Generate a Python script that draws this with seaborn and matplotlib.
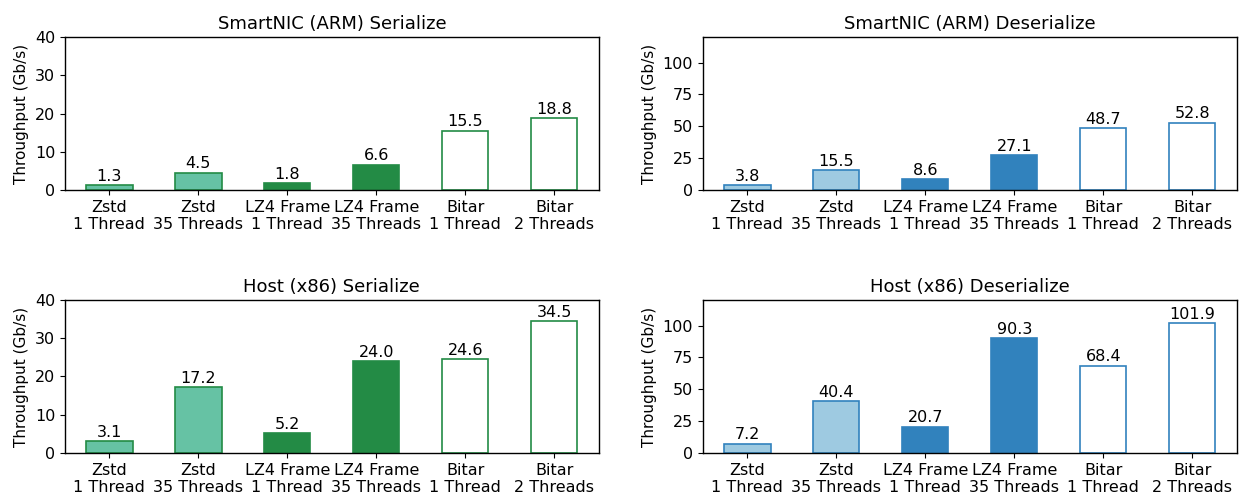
import matplotlib
matplotlib.use("Agg")
import matplotlib.pyplot as plt
import seaborn as sns
import pandas as pd

categories = ["Zstd\n1 Thread", "Zstd\n35 Threads", "LZ4 Frame\n1 Thread",
              "LZ4 Frame\n35 Threads", "Bitar\n1 Thread", "Bitar\n2 Threads"]
arm_serialize = [1.3, 4.5, 1.8, 6.6, 15.5, 18.8]
arm_deserialize = [3.8, 15.5, 8.6, 27.1, 48.7, 52.8]
host_serialize = [3.1, 17.2, 5.2, 24.0, 24.6, 34.5]
host_deserialize = [7.2, 40.4, 20.7, 90.3, 68.4, 101.9]
titles = ["SmartNIC (ARM) Serialize", "SmartNIC (ARM) Deserialize",
          "Host (x86) Serialize", "Host (x86) Deserialize"]

green_fill = ["#66c2a4", "#66c2a4", "#238b45", "#238b45", "white", "white"]
green_edge = "#238b45"
blue_fill = ["#9ecae1", "#9ecae1", "#3182bd", "#3182bd", "white", "white"]
blue_edge = "#3182bd"

sns.set_style("ticks", {"axes.edgecolor": "black", "text.color": "black",
                        "axes.labelcolor": "black", "xtick.color": "black",
                        "ytick.color": "black"})
plt.rcParams['font.family'] = ['DejaVu Sans']

fig, axes = plt.subplots(2, 2, figsize=(12.48, 4.95), dpi=100)
panels = [(axes[0, 0], arm_serialize, green_fill, green_edge, 40),
          (axes[0, 1], arm_deserialize, blue_fill, blue_edge, 120),
          (axes[1, 0], host_serialize, green_fill, green_edge, 40),
          (axes[1, 1], host_deserialize, blue_fill, blue_edge, 120)]

for (ax, vals, fills, edge, ymax), title in zip(panels, titles):
    df = pd.DataFrame({"cat": categories, "val": vals})
    sns.barplot(data=df, x="cat", y="val", hue="cat", palette=fills,
                legend=False, width=0.52, ax=ax, saturation=1)
    for p, f in zip(ax.patches, fills):
        p.set_facecolor(f)
        p.set_edgecolor(edge)
        p.set_linewidth(1.2)
    for c in ax.containers:
        ax.bar_label(c, fmt="%.1f", fontsize=11.5, padding=1, color="black")
    ax.set_ylim(0, ymax)
    if ymax == 40:
        ax.set_yticks([0, 10, 20, 30, 40])
    else:
        ax.set_yticks([0, 25, 50, 75, 100])
    ax.set_title(title, fontsize=13, color="black")
    ax.set_xlabel("")
    ax.set_ylabel("Throughput (Gb/s)", fontsize=11)
    ax.tick_params(labelsize=11.5, color="black", labelcolor="black")
    for s in ax.spines.values():
        s.set_visible(True)
        s.set_color("black")
        s.set_linewidth(1.0)

plt.subplots_adjust(left=0.052, right=0.991, top=0.925, bottom=0.085,
                    wspace=0.195, hspace=0.72)
fig.savefig("out.png", dpi=100)
